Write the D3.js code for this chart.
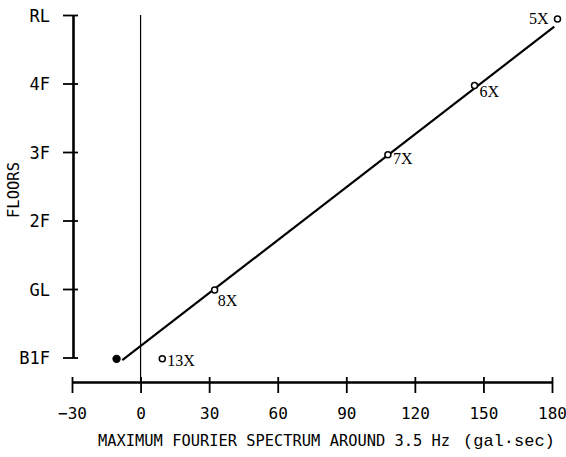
<!DOCTYPE html>
<html>
<head>
<meta charset="utf-8">
<script src="https://cdn.jsdelivr.net/npm/d3@7"></script>
<style>
  html, body { margin: 0; padding: 0; background: #fff; }
  svg { display: block; }
</style>
</head>
<body>
<svg id="chart" width="566" height="457"></svg>
<script>
// Floor levels (index 0 = B1F ... 5 = RL)
const floorLabels = ["B1F", "GL", "2F", "3F", "4F", "RL"];
const floorLevels = [0, 1, 2, 3, 4, 5];

// X axis ticks (gal·sec)
const xTicks = [-30, 0, 30, 60, 90, 120, 150, 180];

// Observed maximum Fourier spectrum per recording point
const pointNames  = ["5X", "6X", "7X", "8X", "13X"];
const pointValues = [182.4, 146.1, 108.2, 32.4, 9.5];
const pointFloors = [4.94, 3.97, 2.96, 0.985, -0.02];

// Basement point shown as a filled marker
const baseValue = [-10.5];
const baseFloor = [-0.02];

// Fitted line end points
const fitValues = [-8, 181];
const fitFloors = [-0.04, 4.83];

const svg = d3.select("#chart");

const x = d3.scaleLinear().domain([-30, 180]).range([72, 552]);
const y = d3.scaleLinear().domain([0, 5]).range([357.5, 15]);

const monoFont = "'DejaVu Sans Mono', 'Liberation Mono', monospace";
const serifFont = "'Liberation Serif', 'DejaVu Serif', serif";

// Vertical reference line at zero
svg.append("line")
  .attr("x1", x(0)).attr("x2", x(0))
  .attr("y1", y(5)).attr("y2", 382)
  .attr("stroke", "#000").attr("stroke-width", 1.2);

// X axis
const xAxis = svg.append("g")
  .attr("transform", "translate(0,382)")
  .call(d3.axisBottom(x).tickValues(xTicks).tickSize(11).tickSizeOuter(0).tickPadding(0));
xAxis.select(".domain").attr("stroke", "#000").attr("stroke-width", 2.6);
xAxis.selectAll(".tick line").attr("y1", -5).attr("stroke", "#000").attr("stroke-width", 1.8);
xAxis.selectAll(".tick text")
  .attr("y", 37).attr("dy", 0)
  .attr("font-family", monoFont).attr("font-size", 16).attr("fill", "#000");

// Y axis (floors)
const yAxis = svg.append("g")
  .attr("transform", "translate(73,0)")
  .call(d3.axisLeft(y).tickValues(floorLevels)
    .tickFormat(d => floorLabels[d]).tickSize(10).tickSizeOuter(0).tickPadding(13));
yAxis.select(".domain").attr("stroke", "#000").attr("stroke-width", 2.6);
yAxis.selectAll(".tick line").attr("x2", -10).attr("x1", 5).attr("stroke", "#000").attr("stroke-width", 1.8);
yAxis.selectAll(".tick text")
  .attr("dy", "0.36em")
  .attr("font-family", monoFont).attr("font-size", 17).attr("fill", "#000");

// Axis titles
svg.append("text")
  .attr("transform", "translate(19,190) rotate(-90)")
  .attr("text-anchor", "middle")
  .attr("font-family", monoFont).attr("font-size", 15.5)
  .text("FLOORS");

svg.append("text")
  .attr("x", 98).attr("y", 446)
  .attr("font-family", monoFont).attr("font-size", 15.4)
  .text("MAXIMUM FOURIER SPECTRUM AROUND 3.5 Hz");
svg.append("text")
  .attr("x", 463).attr("y", 446)
  .attr("font-family", "'Liberation Mono', 'Courier New', monospace").attr("font-size", 17)
  .text("(gal\u00B7sec)");

// Fitted line
const line = d3.line().x(d => x(d[0])).y(d => y(d[1]));
svg.append("path")
  .datum(d3.zip(fitValues, fitFloors))
  .attr("d", line)
  .attr("fill", "none").attr("stroke", "#000").attr("stroke-width", 2.2);

// Open markers for recording points
const pts = d3.zip(pointNames, pointValues, pointFloors);
svg.selectAll("circle.obs")
  .data(pts).enter().append("circle")
  .attr("class", "obs")
  .attr("cx", d => x(d[1])).attr("cy", d => y(d[2]))
  .attr("r", 3)
  .attr("fill", "#fff").attr("stroke", "#000").attr("stroke-width", 1.5);

// Filled basement marker
svg.selectAll("circle.base")
  .data(d3.zip(baseValue, baseFloor)).enter().append("circle")
  .attr("class", "base")
  .attr("cx", d => x(d[0])).attr("cy", d => y(d[1]))
  .attr("r", 4.2).attr("fill", "#000");

// Point labels: placement around each marker
const labelPlace = {
  "5X":  { dx: -9, dy: 5,  anchor: "end" },
  "6X":  { dx: 5,  dy: 11, anchor: "start" },
  "7X":  { dx: 5,  dy: 9,  anchor: "start" },
  "8X":  { dx: 3,  dy: 16, anchor: "start" },
  "13X": { dx: 5,  dy: 7,  anchor: "start" }
};
svg.selectAll("text.pt")
  .data(pts).enter().append("text")
  .attr("class", "pt")
  .attr("x", d => x(d[1]) + labelPlace[d[0]].dx)
  .attr("y", d => y(d[2]) + labelPlace[d[0]].dy)
  .attr("text-anchor", d => labelPlace[d[0]].anchor)
  .attr("font-family", serifFont).attr("font-size", 16)
  .text(d => d[0]);
</script>
</body>
</html>
